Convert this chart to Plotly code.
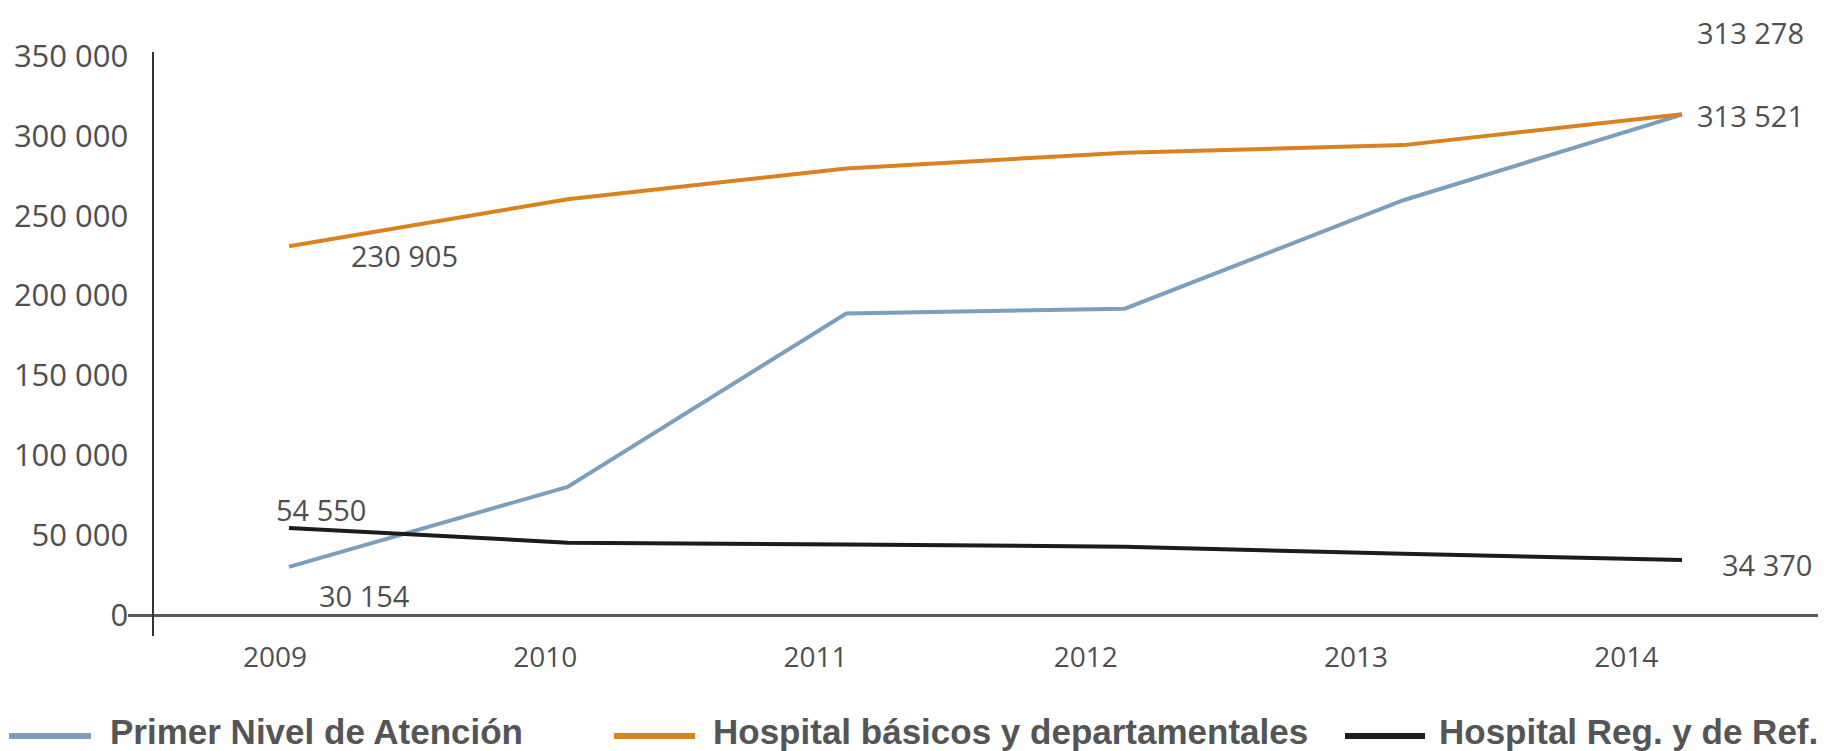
import plotly.graph_objects as go

# data
years = [2009, 2010, 2011, 2012, 2013, 2014]
series_names = [
    "Primer Nivel de Atención",
    "Hospital básicos y departamentales",
    "Hospital Reg. y de Ref.",
]
primer_nivel = [30154, 80200, 188800, 191800, 259700, 313278]
hosp_basicos = [230905, 260300, 279600, 289500, 294200, 313521]
hosp_regional = [54550, 45300, 44100, 42800, 38300, 34370]
series_colors = ["#7b9fbd", "#d9821f", "#1c1c1c"]
y_ticks = [0, 50000, 100000, 150000, 200000, 250000, 300000, 350000]

# page body has an 8px margin, so the figure is drawn 8px in from the window
OFF = 8
W, H = 1826 - OFF, 751 - OFF
M_L, M_T = 128 - OFF, 52 - OFF
M_R, M_B = 0, 115
PLOT_W = W - M_L - M_R
PLOT_H = H - M_T - M_B

TICK_FONT = dict(family="Open Sans", size=28, color="#4f4f4f")
YTICK_FONT = dict(family="Open Sans", size=31, color="#4f4f4f")
LABEL_FONT = dict(family="Open Sans", size=29, color="#4f4f4f")
LEG_FONT = dict(family="Liberation Sans", size=35, color="#555555")


def fmt(v):
    return f"{v:,}".replace(",", " ")


def px_x(px):
    # window pixel -> paper fraction
    return (px - OFF - M_L) / PLOT_W


def px_y(py):
    return (M_T + PLOT_H - (py - OFF)) / PLOT_H


fig = go.Figure()
for name, vals, col in zip(series_names, [primer_nivel, hosp_basicos, hosp_regional], series_colors):
    fig.add_trace(go.Scatter(
        x=years, y=vals, mode="lines", name=name,
        line=dict(color=col, width=4), showlegend=False,
    ))

# value labels at ends of series (offsets in px)
end_labels = [
    (years[-1], primer_nivel[-1], 68, 82),
    (years[-1], hosp_basicos[-1], 68, -1),
    (years[0], hosp_basicos[0], 115, -9),
    (years[0], hosp_regional[0], 32, 18),
    (years[0], primer_nivel[0], 75, -29),
    (years[-1], hosp_regional[-1], 85, -4),
]
for x, y, dx, dy in end_labels:
    fig.add_annotation(x=x, y=y, text=fmt(y), showarrow=False,
                       xshift=dx, yshift=dy, font=LABEL_FONT)

# custom legend (long line swatches)
leg_items = [(9, 91, 108), (614, 695, 711), (1345, 1425, 1437)]
leg_y = px_y(731)
for (x0, x1, tx), name, col in zip(leg_items, series_names, series_colors):
    fig.add_shape(type="line", xref="paper", yref="paper",
                  x0=px_x(x0), x1=px_x(x1), y0=px_y(736), y1=px_y(736),
                  line=dict(color=col, width=6))
    fig.add_annotation(xref="paper", yref="paper", x=px_x(tx), y=leg_y,
                       text=f"<b>{name}</b>", showarrow=False, xanchor="left",
                       yanchor="middle", font=LEG_FONT)

# pixel geometry: y=0 sits 21px above the bottom of the plot area
zero_px = 21
y_top_px = PLOT_H - 4
per_px = 350000 / (y_top_px - zero_px)
y_range = [-zero_px * per_px, (PLOT_H - zero_px) * per_px]

px_per_year = 278.6
x0_px = 289 - OFF - M_L
x_range = [2009 - x0_px / px_per_year, 2009 + (PLOT_W - x0_px) / px_per_year]
x_tickvals = [y - 0.05 - 0.03 * (y - 2009) for y in years]

fig.update_layout(
    width=W, height=H,
    margin=dict(l=M_L, r=M_R, t=M_T, b=M_B),
    paper_bgcolor="white", plot_bgcolor="white",
    xaxis=dict(
        range=x_range, tickvals=x_tickvals, ticktext=[str(y) for y in years],
        showgrid=False, zeroline=False, showline=True, linecolor="#5a5a5a", linewidth=3,
        anchor="free", position=zero_px / PLOT_H, ticks="", ticklabelstandoff=16,
        tickfont=TICK_FONT,
    ),
    yaxis=dict(
        range=y_range, tickvals=y_ticks, ticktext=[fmt(v) for v in y_ticks],
        showgrid=False, zeroline=False, showline=True, linecolor="#333333", linewidth=2,
        anchor="free", position=px_x(152.5), ticks="", ticklabelstandoff=17,
        tickfont=YTICK_FONT,
    ),
)

fig.write_html("out.html")
